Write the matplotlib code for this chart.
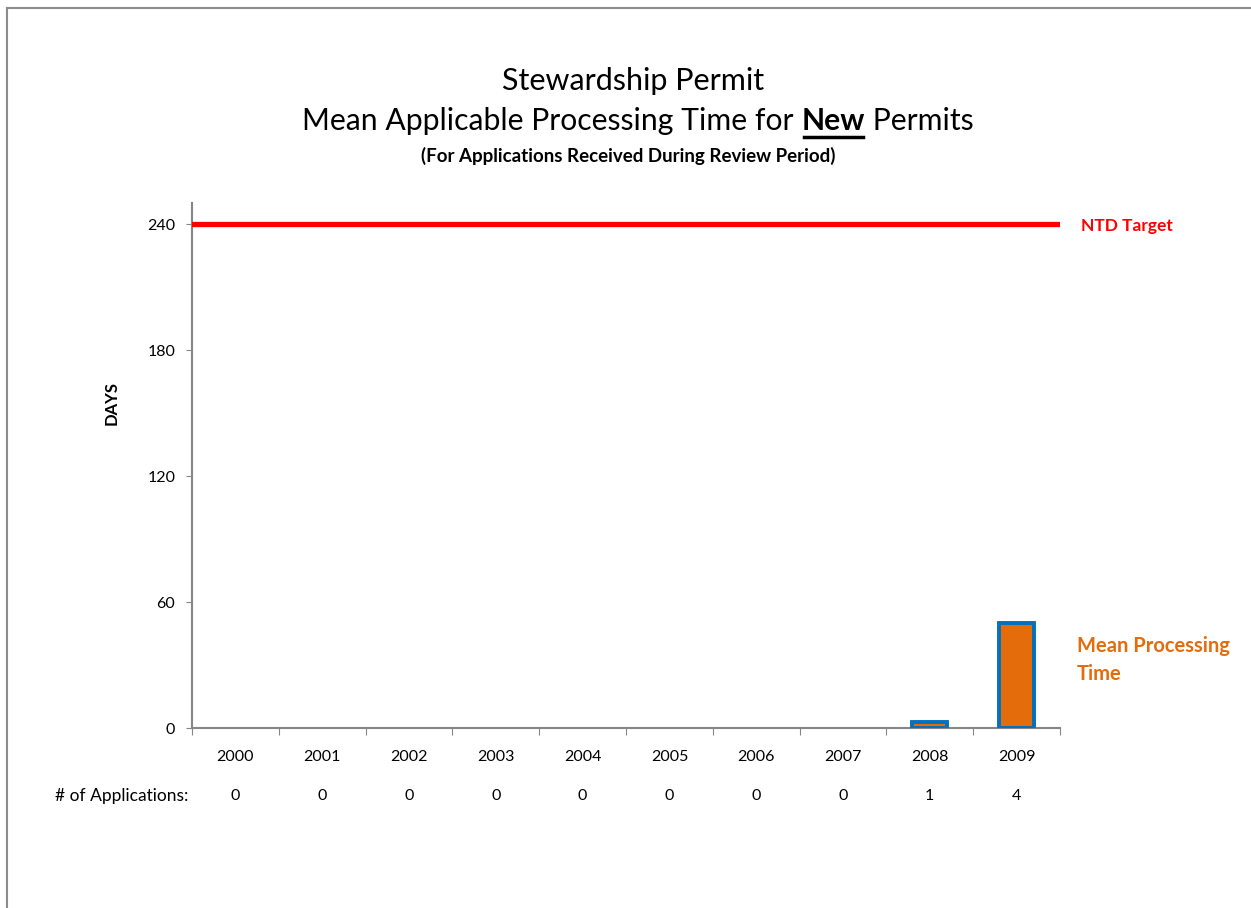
import matplotlib
matplotlib.use("Agg")
import matplotlib.pyplot as plt
from matplotlib.lines import Line2D
import numpy as np

plt.rcParams['font.family'] = ['Lato', 'DejaVu Sans']

years = ['2000', '2001', '2002', '2003', '2004', '2005', '2006', '2007', '2008', '2009']
mean_days = [0, 0, 0, 0, 0, 0, 0, 0, 3, 50]
ntd_target = [240] * 10
applications = ['0', '0', '0', '0', '0', '0', '0', '0', '1', '4']

W, H = 1251, 908
fig = plt.figure(figsize=(W / 100, H / 100), dpi=100)
fig.patch.set_facecolor('white')

# outer frame (top and left edges visible)
fig.add_artist(Line2D([7 / W, 7 / W], [0, 1 - 8 / H], color='#8c8c8c', lw=1.5, transform=fig.transFigure))
fig.add_artist(Line2D([7 / W, 1], [1 - 8 / H, 1 - 8 / H], color='#8c8c8c', lw=1.5, transform=fig.transFigure))

ax = fig.add_axes([192 / W, 1 - 728 / H, (1060 - 192) / W, (728 - 203) / H])
x = np.arange(len(years))
lws = [2.8 if v > 0 else 0 for v in mean_days]
ax.bar(x, mean_days, width=0.4, color='#E46C0A', edgecolor='#0070C0', linewidth=lws, zorder=3)
ax.plot([-0.5, 9.5], [ntd_target[0], ntd_target[-1]], color='#FF0000', lw=3.8, zorder=4)

ax.set_xlim(-0.5, 9.5)
ax.set_ylim(0, 250)
ax.set_yticks([0, 60, 120, 180, 240])
ax.tick_params(axis='y', direction='out', length=4, color='#868686', labelsize=11.5, pad=8)
ax.set_xticks(np.arange(-0.5, 10, 1))
ax.set_xticklabels([])
ax.tick_params(axis='x', direction='out', length=5, color='#868686')
for s in ['top', 'right']:
    ax.spines[s].set_visible(False)
for s in ['left', 'bottom']:
    ax.spines[s].set_color('#868686')
    ax.spines[s].set_linewidth(1.5)

for i, (yr, n) in enumerate(zip(years, applications)):
    ax.annotate(yr, xy=(i, 0), xycoords=('data', 'axes fraction'), xytext=(0, -29),
                textcoords='offset pixels', ha='center', va='center', fontsize=11.5)
    ax.annotate(n, xy=(i, 0), xycoords=('data', 'axes fraction'), xytext=(0, -68),
                textcoords='offset pixels', ha='center', va='center', fontsize=11.5)
fig.text(188 / W, 1 - 796 / H, '# of Applications:', ha='right', va='center', fontsize=12.5)

fig.text(112 / W, 1 - 403 / H, 'DAYS', fontsize=12, fontweight='bold', rotation=90, ha='center', va='center')

fig.text(1081 / W, 1 - 226 / H, 'NTD Target', color='#FF0000', fontsize=12.5, fontweight='bold', ha='left', va='center')
fig.text(1077 / W, 1 - 660 / H, 'Mean Processing\nTime', color='#E46C0A', fontsize=14.5, fontweight='bold',
         ha='left', va='center', linespacing=1.45)

# titles
fig.text(633 / W, 1 - 81 / H, 'Stewardship Permit', fontsize=22, ha='center', va='center')
fig.text(628 / W, 1 - 156 / H, '(For Applications Received During Review Period)', fontsize=13.5,
         fontweight='bold', ha='center', va='center')

fig.canvas.draw()
r = fig.canvas.get_renderer()
parts = [('Mean Applicable Processing Time for ', 'normal'), ('New', 'bold'), (' Permits', 'normal')]
ts = [fig.text(0, 1 - 121 / H, p, fontsize=21.7, fontweight=w, ha='left', va='center') for p, w in parts]
widths = [t.get_window_extent(r).width for t in ts]
total = sum(widths)
xstart = 638 - total / 2
cur = xstart
for t, w in zip(ts, widths):
    t.set_x(cur / W)
    cur += w
newx0 = xstart + widths[0]
fig.add_artist(Line2D([(newx0 + 2) / W, (newx0 + widths[1] - 2) / W], [1 - 137 / H, 1 - 137 / H],
                      color='black', lw=2.5, transform=fig.transFigure))

fig.savefig('out.png', dpi=100, facecolor='white')
